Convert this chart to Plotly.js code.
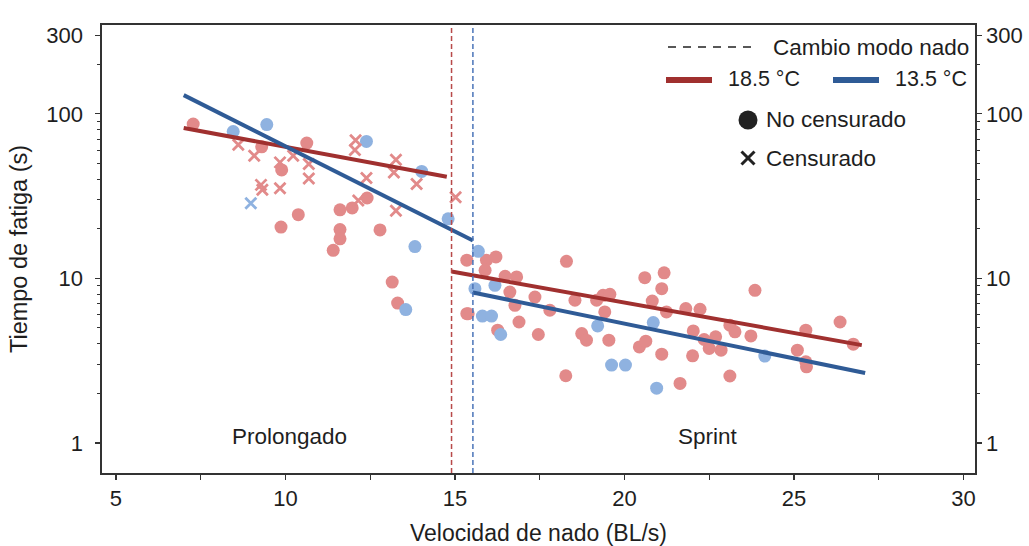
<!DOCTYPE html>
<html>
<head>
<meta charset="utf-8">
<script src="https://cdn.plot.ly/plotly-3.0.1.min.js"></script>
<style>html,body{margin:0;padding:0;background:#fff;}#chart{width:1029px;height:546px;}</style>
</head>
<body>
<div id="chart"></div>
<script>
// ---- data ----
// 18.5 °C, no censurado (circles)
const warmObsX = [7.28, 9.30, 9.89, 10.38, 10.63, 9.87, 11.97, 11.61, 11.61, 11.61, 11.41, 12.41, 12.79,
  13.15, 13.31, 15.35, 15.39, 15.93, 16.21, 15.89, 16.48, 16.82, 16.62, 17.36, 16.77, 17.80, 15.35, 16.89,
  16.26, 17.46, 18.29, 18.54, 19.18, 19.37, 19.57, 19.42, 18.74, 18.88, 19.54, 20.44, 18.27, 20.60, 21.17,
  21.10, 20.82, 21.24, 20.63, 21.10, 21.64, 21.81, 22.23, 22.03, 22.01, 22.35, 22.69, 22.50, 22.85, 23.11,
  23.26, 23.11, 23.73, 23.85, 25.10, 25.35, 25.35, 25.37, 26.36, 26.75];
const warmObsY = [86.6, 63, 45.6, 24.4, 66.4, 20.5, 26.8, 26.1, 19.8, 17.4, 14.8, 30.8, 19.7,
  9.5, 7.08, 12.9, 6.1, 12.9, 13.5, 11.2, 10.3, 10.2, 8.26, 7.7, 6.86, 6.4, 6.1, 5.43,
  4.84, 4.56, 12.7, 7.36, 7.36, 7.89, 8.0, 6.25, 4.62, 4.21, 4.21, 3.83, 2.56, 10.1, 10.8,
  8.66, 7.28, 6.25, 4.15, 3.46, 2.3, 6.55, 6.49, 4.79, 3.38, 4.25, 4.41, 3.75, 3.66, 5.19,
  4.73, 2.55, 4.47, 8.46, 3.66, 4.84, 3.11, 2.9, 5.43, 3.98];
// 18.5 °C, censurado (crosses)
const warmCensX = [8.61, 9.08, 9.84, 9.28, 9.32, 9.84, 10.23, 10.69, 10.69, 12.07, 12.05, 13.26, 13.20,
  13.87, 12.39, 12.15, 13.26, 15.02];
const warmCensY = [64.9, 55.6, 50.7, 37, 34.6, 35.3, 55.6, 49.6, 40.5, 69.2, 60.3, 52.6, 44,
  37.5, 40.8, 29.7, 25.8, 31.1];
// 13.5 °C, no censurado (circles)
const coldObsX = [8.46, 9.45, 12.39, 14.02, 14.80, 13.82, 13.55, 15.69, 16.18, 15.59, 15.81, 16.08, 16.35,
  19.21, 19.62, 20.03, 20.85, 20.95, 24.14];
const coldObsY = [78, 86, 68, 44.7, 23, 15.6, 6.46, 14.6, 9.07, 8.66, 5.9, 5.9, 4.56,
  5.14, 2.97, 2.97, 5.39, 2.15, 3.37];
// 13.5 °C, censurado (crosses)
const coldCensX = [8.98];
const coldCensY = [28.6];
// fitted lines (prolongado / sprint)
const warmProlX = [7.0, 14.76], warmProlY = [82, 41.5];
const coldProlX = [7.0, 15.53], coldProlY = [130, 17.0];
const warmSprX = [14.9, 27.0], warmSprY = [11.0, 3.93];
const coldSprX = [15.53, 27.1], coldSprY = [8.2, 2.66];
// swim-mode change points
const warmChange = 14.9, coldChange = 15.53;
const xTicks = [5, 10, 15, 20, 25, 30];
const yTicks = [1, 10, 100, 300];
const yTickText = ['1', '10', '100', '300'];

// ---- style ----
const RED_PT = '#e28a8a', BLUE_PT = '#8fb2e0';
const RED_LN = '#a0302f', BLUE_LN = '#2f5b96';
const FONT = 'Liberation Sans, Arial, sans-serif';
const TXT = '#1e1e1e';

const traces = [
  {x: warmObsX, y: warmObsY, mode: 'markers', type: 'scatter', marker: {color: RED_PT, size: 13, symbol: 'circle'}, hoverinfo: 'skip'},
  {x: coldObsX, y: coldObsY, mode: 'markers', type: 'scatter', marker: {color: BLUE_PT, size: 13, symbol: 'circle'}, hoverinfo: 'skip'},
  {x: warmCensX, y: warmCensY, mode: 'markers', type: 'scatter', marker: {color: RED_PT, size: 11, symbol: 'x-thin', line: {color: RED_PT, width: 2.8}}, hoverinfo: 'skip'},
  {x: coldCensX, y: coldCensY, mode: 'markers', type: 'scatter', marker: {color: BLUE_PT, size: 11, symbol: 'x-thin', line: {color: BLUE_PT, width: 2.8}}, hoverinfo: 'skip'},
  {x: warmProlX, y: warmProlY, mode: 'lines', type: 'scatter', line: {color: RED_LN, width: 4}},
  {x: coldProlX, y: coldProlY, mode: 'lines', type: 'scatter', line: {color: BLUE_LN, width: 4}},
  {x: warmSprX, y: warmSprY, mode: 'lines', type: 'scatter', line: {color: RED_LN, width: 4}},
  {x: coldSprX, y: coldSprY, mode: 'lines', type: 'scatter', line: {color: BLUE_LN, width: 4}},
  {x: [], y: [], yaxis: 'y2', type: 'scatter', showlegend: false}
];

const L = 102, R = 975, T = 25, B = 473;
const px = v => (v - L) / (R - L);
const py = v => (B - v) / (B - T);

const yRange = [-0.183, 2.54];

const shapes = [
  {type: 'line', xref: 'x', yref: 'paper', x0: warmChange, x1: warmChange, y0: 0, y1: 1, line: {color: '#b84a4a', width: 1.5, dash: '5px,3px'}},
  {type: 'line', xref: 'x', yref: 'paper', x0: coldChange, x1: coldChange, y0: 0, y1: 1, line: {color: '#4a74b8', width: 1.5, dash: '5px,3px'}},
  // legend glyphs
  {type: 'line', xref: 'paper', yref: 'paper', x0: px(668), x1: px(755), y0: py(47), y1: py(47), line: {color: '#222', width: 1.6, dash: '8px,7px'}},
  {type: 'line', xref: 'paper', yref: 'paper', x0: px(666), x1: px(712), y0: py(80), y1: py(80), line: {color: RED_LN, width: 6}},
  {type: 'line', xref: 'paper', yref: 'paper', x0: px(833), x1: px(879), y0: py(80), y1: py(80), line: {color: BLUE_LN, width: 6}},
  {type: 'circle', xref: 'paper', yref: 'paper', xsizemode: 'pixel', ysizemode: 'pixel', xanchor: px(748), yanchor: py(120), x0: -9.5, x1: 9.5, y0: -9.5, y1: 9.5, fillcolor: '#222', line: {width: 0}},
  {type: 'line', xref: 'paper', yref: 'paper', xsizemode: 'pixel', ysizemode: 'pixel', xanchor: px(748), yanchor: py(158), x0: -6.5, x1: 6.5, y0: -6.5, y1: 6.5, line: {color: '#222', width: 3}},
  {type: 'line', xref: 'paper', yref: 'paper', xsizemode: 'pixel', ysizemode: 'pixel', xanchor: px(748), yanchor: py(158), x0: -6.5, x1: 6.5, y0: 6.5, y1: -6.5, line: {color: '#222', width: 3}}
];

const legFont = {family: FONT, size: 22.5, color: TXT};
const tempFont = {family: FONT, size: 21.5, color: TXT};
const annotations = [
  {xref: 'paper', yref: 'paper', x: px(771), y: py(47), text: 'Cambio modo nado', showarrow: false, xanchor: 'left', yanchor: 'middle', font: legFont},
  {xref: 'paper', yref: 'paper', x: px(726), y: py(79), text: '18.5 °C', showarrow: false, xanchor: 'left', yanchor: 'middle', font: tempFont},
  {xref: 'paper', yref: 'paper', x: px(893), y: py(79), text: '13.5 °C', showarrow: false, xanchor: 'left', yanchor: 'middle', font: tempFont},
  {xref: 'paper', yref: 'paper', x: px(764), y: py(120), text: 'No censurado', showarrow: false, xanchor: 'left', yanchor: 'middle', font: legFont},
  {xref: 'paper', yref: 'paper', x: px(764), y: py(158), text: 'Censurado', showarrow: false, xanchor: 'left', yanchor: 'middle', font: legFont},
  {xref: 'x', yref: 'y', x: 10.13, y: Math.log10(1.1), text: 'Prolongado', showarrow: false, xanchor: 'center', yanchor: 'middle', font: legFont},
  {xref: 'x', yref: 'y', x: 22.46, y: Math.log10(1.1), text: 'Sprint', showarrow: false, xanchor: 'center', yanchor: 'middle', font: legFont}
];

const yMinor = {ticks: 'outside', ticklen: 3, tickcolor: '#333', tickwidth: 1.2,
  tickvals: [2,3,4,5,6,7,8,9,20,30,40,50,60,70,80,90,200]};

const layout = {
  width: 1029, height: 546,
  margin: {l: L, r: 1029 - R, t: T, b: 546 - B, pad: 0},
  paper_bgcolor: '#fff', plot_bgcolor: '#fff',
  showlegend: false,
  font: {family: FONT, size: 22, color: TXT},
  xaxis: {
    range: [4.59, 30.34], tickvals: xTicks, ticks: 'outside', ticklen: 5, tickwidth: 1.3, tickcolor: '#333',
    minor: {tickvals: [7.5, 12.5, 17.5, 22.5, 27.5], ticks: 'outside', ticklen: 5, tickwidth: 1.3, tickcolor: '#333'},
    showline: true, linecolor: '#333', linewidth: 1.6, mirror: true, showgrid: false, zeroline: false,
    tickfont: {family: FONT, size: 22, color: TXT},
    title: {text: 'Velocidad de nado (BL/s)', font: {family: FONT, size: 23, color: TXT}, standoff: 26}
  },
  yaxis: {
    type: 'log', range: yRange, tickvals: yTicks, ticktext: yTickText, ticks: 'outside', ticklen: 5, tickwidth: 1.3, tickcolor: '#333',
    minor: yMinor, ticklabelstandoff: 8,
    showline: true, linecolor: '#333', linewidth: 1.6, showgrid: false, zeroline: false,
    tickfont: {family: FONT, size: 22, color: TXT},
    title: {text: 'Tiempo de fatiga (s)', font: {family: FONT, size: 23.5, color: TXT}, standoff: 12}
  },
  yaxis2: {
    type: 'log', range: yRange, overlaying: 'y', side: 'right', anchor: 'x',
    tickvals: yTicks, ticktext: yTickText, ticks: 'outside', ticklen: 5, tickwidth: 1.3, tickcolor: '#333',
    minor: yMinor,
    showline: true, linecolor: '#333', linewidth: 1.6, showgrid: false, zeroline: false,
    tickfont: {family: FONT, size: 22, color: TXT}
  },
  shapes: shapes,
  annotations: annotations
};

Plotly.newPlot('chart', traces, layout, {staticPlot: true, displayModeBar: false});
</script>
</body>
</html>
